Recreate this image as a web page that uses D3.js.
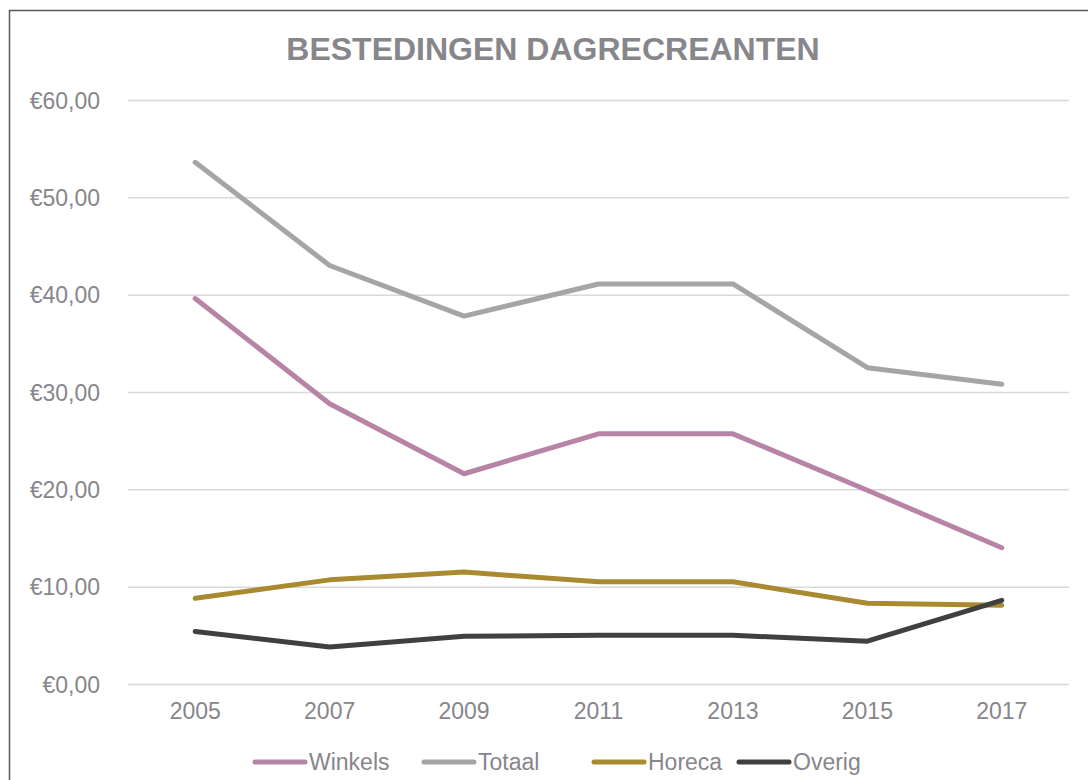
<!DOCTYPE html>
<html>
<head>
<meta charset="utf-8">
<script src="https://cdn.jsdelivr.net/npm/d3@7"></script>
<style>
	body { margin: 0; background: #fff; }
	svg { display: block; font-family: "Liberation Sans", Arial, sans-serif; }
</style>
</head>
<body>
<div id="chartDiv"></div>
<script>
;(function() {

	var years = ["2005", "2007", "2009", "2011", "2013", "2015", "2017"];
	var winkels = [39.6, 28.8, 21.6, 25.7, 25.7, 19.9, 14.0];
	var totaal = [53.6, 43.0, 37.8, 41.1, 41.1, 32.5, 30.8];
	var horeca = [8.8, 10.7, 11.5, 10.5, 10.5, 8.3, 8.1];
	var overig = [5.4, 3.8, 4.9, 5.0, 5.0, 4.4, 8.6];
	var yTicks = [0, 10, 20, 30, 40, 50, 60];
	var seriesNames = ["Winkels", "Totaal", "Horeca", "Overig"];
	var colors = ["#b784a6", "#a5a5a5", "#a98a30", "#404040"];
	var title = "BESTEDINGEN DAGRECREANTEN";

	var width = 1088;
	var height = 780;
	var margin = { top: 100, right: 19, bottom: 96, left: 128 };
	var textColor = "#86868b";
	var labelSize = "23px";

	var chartWidth = width - margin.left - margin.right;
	var chartHeight = height - margin.top - margin.bottom;

	var svg = d3.select("#chartDiv").append("svg")
		.attr("width", width)
		.attr("height", height);

	// outer border (continues past the right and bottom edge)
	svg.append("rect")
		.attr("x", 9.5)
		.attr("y", 10.5)
		.attr("width", 1100)
		.attr("height", 800)
		.attr("fill", "none")
		.attr("stroke", "#595959")
		.attr("stroke-width", 1.5);

	svg.append("text")
		.attr("x", 553)
		.attr("y", 60)
		.attr("text-anchor", "middle")
		.style("font-size", "32px")
		.style("font-weight", "bold")
		.attr("fill", textColor)
		.text(title);

	var plot = svg.append("g")
		.attr("transform", "translate(" + margin.left + "," + margin.top + ")");

	var xScale = d3.scaleBand()
		.domain(years)
		.range([0, chartWidth]);

	var yScale = d3.scaleLinear()
		.domain([0, 60])
		.range([chartHeight, 0]);

	// gridlines + y labels
	var yAxis = d3.axisLeft(yScale)
		.tickValues(yTicks)
		.tickSize(-chartWidth)
		.tickPadding(28)
		.tickFormat(function(d) { return "€" + d3.format(".2f")(d).replace(".", ","); });

	var yAxisG = plot.append("g").call(yAxis);
	yAxisG.select(".domain").remove();
	yAxisG.selectAll(".tick line")
		.attr("stroke", "#d9d9d9")
		.attr("stroke-width", 1.5);
	yAxisG.selectAll(".tick text")
		.attr("fill", textColor)
		.style("font-size", labelSize)
		.attr("dy", "0.35em");

	var xAxis = d3.axisBottom(xScale)
		.tickSize(0)
		.tickPadding(19);

	var xAxisG = plot.append("g")
		.attr("transform", "translate(0," + chartHeight + ")")
		.call(xAxis);
	xAxisG.select(".domain").remove();
	xAxisG.selectAll(".tick text")
		.attr("fill", textColor)
		.style("font-size", labelSize);

	var seriesData = [winkels, totaal, horeca, overig];

	var line = d3.line()
		.x(function(d, i) { return xScale(years[i]) + xScale.bandwidth() / 2; })
		.y(function(d) { return yScale(d); });

	// draw order: Winkels, Totaal, Horeca, Overig (Overig on top)
	plot.selectAll(".series")
		.data(seriesData)
		.enter().append("path")
		.attr("class", "series")
		.attr("d", line)
		.attr("fill", "none")
		.attr("stroke", function(d, i) { return colors[i]; })
		.attr("stroke-width", 5)
		.attr("stroke-linecap", "round")
		.attr("stroke-linejoin", "round");

	// legend
	var legendX = [253, 422, 592, 737];
	var legendY = 762;
	var legend = svg.selectAll(".legend")
		.data(seriesNames)
		.enter().append("g")
		.attr("class", "legend")
		.attr("transform", function(d, i) { return "translate(" + legendX[i] + "," + legendY + ")"; });

	legend.append("line")
		.attr("x1", 2)
		.attr("x2", 52)
		.attr("stroke", function(d, i) { return colors[i]; })
		.attr("stroke-width", 5)
		.attr("stroke-linecap", "round");

	legend.append("text")
		.attr("x", 56)
		.attr("dy", "0.35em")
		.attr("fill", textColor)
		.style("font-size", labelSize)
		.text(function(d) { return d; });

})();
</script>
</body>
</html>
